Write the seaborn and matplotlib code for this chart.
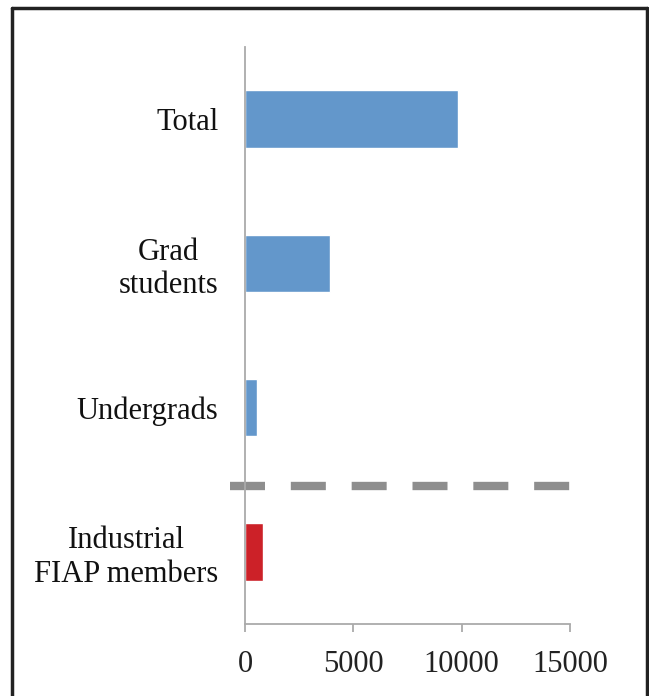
import matplotlib
matplotlib.use("Agg")
import matplotlib.pyplot as plt
import seaborn as sns
import pandas as pd
from matplotlib.lines import Line2D

categories = ["Total", "Grad\nstudents", "Undergrads", "Industrial\nFIAP members"]
values = [9850, 3900, 550, 820]
bar_colors = ["#6397cb", "#6397cb", "#6397cb", "#cc2128"]
x_ticks = [0, 5000, 10000, 15000]

sns.set_style("white")
plt.rcParams["font.family"] = ["Liberation Serif", "DejaVu Serif"]

df = pd.DataFrame({"cat": categories, "val": values})

fig = plt.figure(figsize=(6.49, 6.96), dpi=100)
ax = fig.add_axes([245/649, 1-624/696, 325/649, (624-47)/696])

sns.barplot(data=df, x="val", y="cat", hue="cat", palette=bar_colors,
            legend=False, width=0.4, ax=ax, saturation=1, orient="h")

ax.set_xlim(0, 15000)
ax.set_ylim(3.5, -0.5)
ax.set_xticks(x_ticks)
ax.set_xticklabels([str(t) for t in x_ticks], fontsize=22, color="#222222")
ax.set_xlabel("")
ax.set_ylabel("")
ax.tick_params(axis="y", length=0, labelsize=22, labelcolor="#111111", pad=19)
ax.tick_params(axis="x", length=5.5, width=1.3, color="#aaaaaa", direction="out", pad=13, bottom=True)
for lbl in ax.get_yticklabels():
    lbl.set_horizontalalignment("right")
    lbl.set_multialignment("center")

for s in ["top", "right"]:
    ax.spines[s].set_visible(False)
for s in ["left", "bottom"]:
    ax.spines[s].set_color("#aaaaaa")
    ax.spines[s].set_linewidth(1.3)

# dashed separator
ax.plot([-700, 15150], [2.54, 2.54], color="#8e8e8e", linewidth=6,
        dashes=(4.2, 3.1), clip_on=False, solid_capstyle="butt", dash_capstyle="butt")

# figure border
bx0, by0, bx1 = 12/649, 1-8/696, 647/649
fig.add_artist(Line2D([bx0, bx0], [-0.01, by0], transform=fig.transFigure, color="#222222", linewidth=2.5))
fig.add_artist(Line2D([bx0, bx1], [by0, by0], transform=fig.transFigure, color="#222222", linewidth=2.5))
fig.add_artist(Line2D([bx1, bx1], [-0.01, by0], transform=fig.transFigure, color="#222222", linewidth=2.5))

fig.savefig("out.png", dpi=100)
